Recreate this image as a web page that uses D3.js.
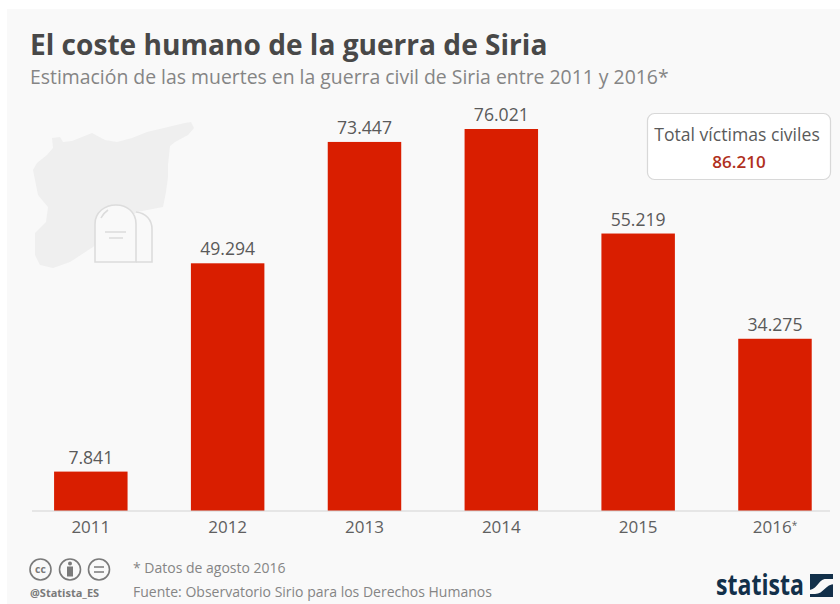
<!DOCTYPE html>
<html>
<head>
<meta charset="utf-8">
<script src="https://cdn.jsdelivr.net/npm/d3@7"></script>
<style>
html, body { margin: 0; padding: 0; background: #fff; }
svg { display: block; }
text { font-family: "Open Sans", sans-serif; }
</style>
</head>
<body>
<div class="canvas"></div>
<script>
const years = ['2011', '2012', '2013', '2014', '2015', '2016'];
const deaths = [7841, 49294, 73447, 76021, 55219, 34275];
const labels = ['7.841', '49.294', '73.447', '76.021', '55.219', '34.275'];
const tickLabels = ['2011', '2012', '2013', '2014', '2015', '2016'];

const svg = d3.select('.canvas')
    .append('svg')
    .attr('width', 840)
    .attr('height', 604);

// fondo
svg.append('rect')
    .attr('x', 7).attr('y', 9)
    .attr('width', 833).attr('height', 595)
    .attr('fill', '#f9f9f9');

// titulo
svg.append('text')
    .attr('x', 30).attr('y', 55)
    .attr('font-size', 28.1)
    .attr('font-weight', 700)
    .attr('fill', '#484848')
    .text('El coste humano de la guerra de Siria');

svg.append('text')
    .attr('x', 30).attr('y', 84)
    .attr('font-size', 19.4)
    .attr('fill', '#858585')
    .text('Estimación de las muertes en la guerra civil de Siria entre 2011 y 2016*');

// mapa de Siria
svg.append('path')
    .attr('d', 'M52,138 L60,137 L63,142 L72,141 L92,133 L105,140 L117,142 L132,138 L147,132 L168,127 L185,123 L191,122 L194,128 L188,135 L175,142 L170,146 L168,165 L168,177 L166,192 L163,207 L137,212 L112,230 L93,247 L70,262 L53,268 L40,265 L35,255 L35,233 L46,222 L48,207 L38,195 L35,180 L33,170 L37,163 L47,155 L53,148 Z')
    .attr('fill', '#efefef');

// lapida
const stone = svg.append('g')
    .attr('fill', 'none')
    .attr('stroke', '#dcdcdc')
    .attr('stroke-width', 1.6);
stone.append('path').attr('d', 'M95,262 L95,224 C95,212 105,205 116,205 C127,205 136,212 136,224 L136,262 Z').attr('fill', '#f9f9f9');
stone.append('path').attr('d', 'M136,212 C146,213 152,220 152,229 L152,262 L136,262');
stone.append('path').attr('d', 'M105,232 L126,232 M109,238 L123,238');
stone.append('path').attr('d', 'M101,218 C103,214 105,212 108,210');

// margenes y escalas
const baseline = 511;
const y = d3.scaleLinear()
    .domain([0, 76021])
    .range([baseline, 129]);
const x = d3.scaleBand()
    .domain(years)
    .range([22.4, 843.4])
    .paddingInner(0.463)
    .paddingOuter(0.2315);

const xAxis = d3.axisBottom(x)
    .tickSize(0)
    .tickPadding(10)
    .tickFormat((d, i) => tickLabels[i]);

svg.selectAll('rect.bar')
    .data(deaths)
    .enter()
    .append('rect')
    .attr('class', 'bar')
    .attr('x', (d, i) => x(years[i]))
    .attr('y', d => y(d))
    .attr('width', x.bandwidth())
    .attr('height', d => baseline - y(d))
    .attr('fill', '#d91e00');

const xAxisGroup = svg.append('g')
    .attr('transform', `translate(0, ${baseline})`)
    .call(xAxis);
xAxisGroup.select('.domain').remove();
xAxisGroup.append('line')
    .attr('x1', 32).attr('x2', 830)
    .attr('stroke', '#d4d4d4')
    .attr('stroke-width', 1.2);
xAxisGroup.selectAll('text')
    .attr('font-family', '"Open Sans", sans-serif')
    .attr('font-size', 17)
    .attr('fill', '#606060');
// asterisco pequeno en 2016
xAxisGroup.selectAll('.tick').filter(d => d === '2016').select('text')
    .append('tspan')
    .attr('font-size', 10)
    .attr('dy', -4)
    .text('*');

svg.selectAll('text.value')
    .data(deaths)
    .enter()
    .append('text')
    .attr('class', 'value')
    .attr('x', (d, i) => x(years[i]) + x.bandwidth() / 2)
    .attr('y', d => y(d) - 8)
    .attr('text-anchor', 'middle')
    .attr('font-size', 17.6)
    .attr('fill', '#5a5a5a')
    .text((d, i) => labels[i]);

// caja total
svg.append('rect')
    .attr('x', 647.5).attr('y', 113.5)
    .attr('width', 183).attr('height', 66)
    .attr('rx', 7)
    .attr('fill', '#fff')
    .attr('stroke', '#d8d8d8')
    .attr('stroke-width', 1.2);
svg.append('text')
    .attr('x', 737).attr('y', 141)
    .attr('text-anchor', 'middle')
    .attr('font-size', 17.6)
    .attr('fill', '#5a5a5a')
    .text('Total víctimas civiles');
svg.append('text')
    .attr('x', 739).attr('y', 168)
    .attr('text-anchor', 'middle')
    .attr('font-size', 17)
    .attr('font-weight', 600)
    .attr('fill', '#b03020')
    .text('86.210');

// licencia
const cc = svg.append('g').attr('fill', 'none').attr('stroke', '#7a7a7a').attr('stroke-width', 1.6);
[40.5, 70, 99].forEach(cx => cc.append('circle').attr('cx', cx).attr('cy', 569.5).attr('r', 10.5));
svg.append('text')
    .attr('x', 40.5).attr('y', 573)
    .attr('text-anchor', 'middle')
    .attr('font-size', 10.5)
    .attr('font-weight', 700)
    .attr('fill', '#7a7a7a')
    .text('cc');
svg.append('circle').attr('cx', 70).attr('cy', 563.5).attr('r', 2).attr('fill', '#7a7a7a');
svg.append('rect').attr('x', 67).attr('y', 566.5).attr('width', 6).attr('height', 10).attr('fill', '#7a7a7a');
cc.append('path').attr('d', 'M94,567 H104 M94,572 H104');

svg.append('text')
    .attr('x', 30).attr('y', 597)
    .attr('font-size', 11)
    .attr('font-weight', 700)
    .attr('fill', '#7a7a7a')
    .text('@Statista_ES');

svg.append('text')
    .attr('x', 133).attr('y', 573)
    .attr('font-size', 14)
    .attr('fill', '#858585')
    .text('* Datos de agosto 2016');
svg.append('text')
    .attr('x', 133).attr('y', 597)
    .attr('font-size', 14)
    .attr('fill', '#858585')
    .text('Fuente: Observatorio Sirio para los Derechos Humanos');

// logo
svg.append('text')
    .attr('x', 716).attr('y', 595)
    .attr('font-size', 29)
    .attr('font-weight', 700)
    .attr('fill', '#12304a')
    .attr('textLength', 88)
    .attr('lengthAdjust', 'spacingAndGlyphs')
    .style('font-family', '"Liberation Sans Narrow", "Open Sans", sans-serif')
    .text('statista');
svg.append('rect')
    .attr('x', 810).attr('y', 574)
    .attr('width', 23).attr('height', 23)
    .attr('fill', '#12304a');
svg.append('path')
    .attr('d', 'M808,590 C818,590 818,579 826,579 L835,579 L835,584 C825,584 824,594 815,594 L808,594 Z')
    .attr('fill', '#f9f9f9');
</script>
</body>
</html>
